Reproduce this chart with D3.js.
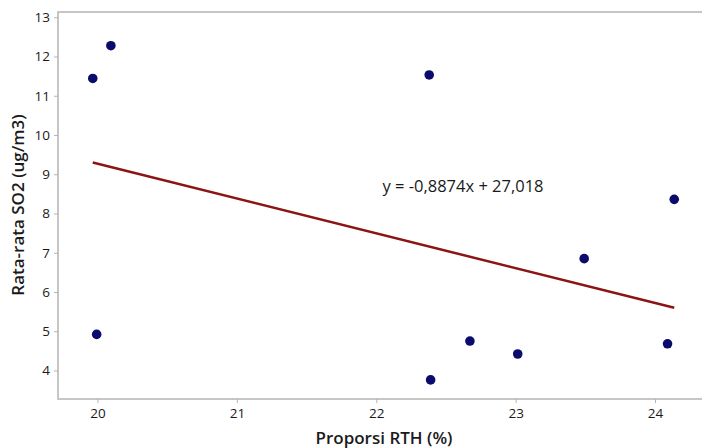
<!DOCTYPE html>
<html><head><meta charset="utf-8">
<script src="https://cdn.jsdelivr.net/npm/d3@7"></script>
<style>body{margin:0;background:#fff}svg{display:block}text{font-family:"Open Sans","Noto Sans",sans-serif}</style>
</head><body>
<svg id="c" width="702" height="448"></svg>
<script>
const propRTH = [19.966, 20.096, 19.994, 22.380, 22.390, 22.672, 23.015, 23.492, 24.090, 24.138];
const so2 = [11.44, 12.275, 4.92, 11.53, 3.76, 4.75, 4.42, 6.85, 4.68, 8.36];
const xTicks = [20, 21, 22, 23, 24];
const yTicks = [4, 5, 6, 7, 8, 9, 10, 11, 12, 13];
const slope = -0.8874, intercept = 27.018;
const eqLabel = "y = -0,8874x + 27,018";
const xTitle = "Proporsi RTH (%)";
const yTitle = "Rata-rata SO2 (ug/m3)";

(function () {
const svg = d3.select("#c");
const x = d3.scaleLinear().domain([20, 24]).range([97.5, 655]);
const y = d3.scaleLinear().domain([4, 12]).range([370.5, 56.5]);
const pLeft = 58, pTop = 12, pBottom = 399, pRight = 720;

// frame
svg.append("rect").attr("x", pLeft).attr("y", pTop).attr("width", pRight - pLeft).attr("height", pBottom - pTop)
  .attr("fill", "none").attr("stroke", "#b4b4b4").attr("stroke-width", 1.5);

const xAxis = svg.append("g").attr("transform", `translate(0,${pBottom})`)
  .call(d3.axisBottom(x).tickValues(xTicks).tickSize(4).tickPadding(5).tickFormat(d3.format("d")));
const yAxis = svg.append("g").attr("transform", `translate(${pLeft},0)`)
  .call(d3.axisLeft(y).tickValues(yTicks).tickSize(4).tickPadding(4).tickFormat(d3.format("d")));
[xAxis, yAxis].forEach(g => {
  g.select(".domain").remove();
  g.selectAll(".tick line").attr("stroke", "#b4b4b4").attr("stroke-width", 1);
  g.selectAll(".tick text").attr("fill", "#1a1a1a").style("font-size", "13.5px")
   .style("font-family", "'Open Sans','Noto Sans',sans-serif");
});

// regression line
const x0 = d3.min(propRTH), x1 = d3.max(propRTH);
svg.append("line")
  .attr("x1", x(x0)).attr("y1", y(slope * x0 + intercept))
  .attr("x2", x(x1)).attr("y2", y(slope * x1 + intercept))
  .attr("stroke", "#8b1414").attr("stroke-width", 2.5);

// points
svg.append("g").selectAll("circle").data(propRTH).join("circle")
  .attr("cx", d => x(d)).attr("cy", (d, i) => y(so2[i])).attr("r", 4.8)
  .attr("fill", "#0b0b6e");

// equation
svg.append("text").attr("x", 463).attr("y", 192).attr("text-anchor", "middle")
  .style("font-size", "16.5px").attr("fill", "#1a1a1a").text(eqLabel);

// titles
svg.append("text").attr("x", 384).attr("y", 444).attr("text-anchor", "middle")
  .style("font-size", "17px").style("font-weight", "600").attr("fill", "#1a1a1a").text(xTitle);
svg.append("text").attr("transform", "translate(24,205) rotate(-90)").attr("text-anchor", "middle")
  .style("font-size", "17px").style("font-weight", "600").attr("fill", "#1a1a1a").text(yTitle);
})();
</script>
</body></html>
